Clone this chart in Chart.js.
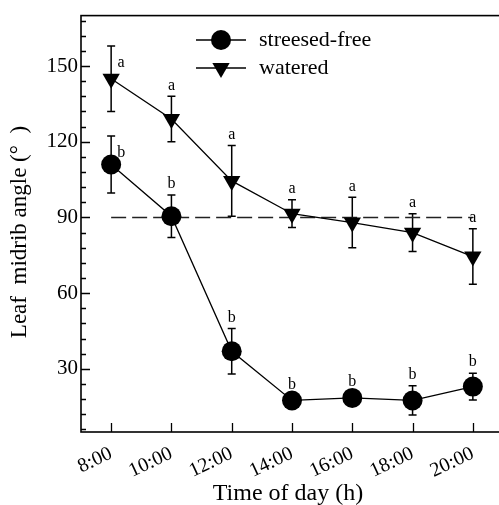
<!DOCTYPE html>
<html>
<head>
<meta charset="utf-8">
<script src="https://cdn.jsdelivr.net/npm/chart.js@4.4.0/dist/chart.umd.min.js"></script>
<style>
  html, body { margin: 0; padding: 0; background: #fff; overflow: hidden; }
  #chart { display: block; }
</style>
</head>
<body>
<canvas id="chart" width="513" height="505"></canvas>
<script>
// hours of the day and their tick labels
const hours = [8, 10, 12, 14, 16, 18, 20];
const timeLabels = ["8:00", "10:00", "12:00", "14:00", "16:00", "18:00", "20:00"];

// streesed-free series (circles)
const freeValues = [111, 90.5, 37, 17.5, 18.5, 17.5, 23];
const freeErrors = [11.3, 8.4, 9, 2, 2, 5.8, 5.3];
const freeLetters = ["b", "b", "b", "b", "b", "b", "b"];

// watered series (triangles)
const wateredValues = [145, 129, 104.5, 91.5, 88, 84, 74.5];
const wateredErrors = [13, 9, 14, 5.5, 10, 7.5, 11];
const wateredLetters = ["a", "a", "a", "a", "a", "a", "a"];

const yMajorTicks = [30, 60, 90, 120, 150];
const referenceAngle = 90;

const SERIF = "'Liberation Serif', 'Times New Roman', serif";

// error bars, letters, frame, inward ticks and legend
const annotatePlugin = {
  id: "annotate",
  beforeDatasetsDraw(chart) {
    const ctx = chart.ctx;
    const xs = chart.scales.x, ys = chart.scales.y;
    ctx.save();
    ctx.strokeStyle = "#000";
    ctx.lineWidth = 1.5;
    [[freeValues, freeErrors], [wateredValues, wateredErrors]].forEach(([vals, errs]) => {
      vals.forEach((v, i) => {
        const x = xs.getPixelForValue(hours[i]);
        const yTop = ys.getPixelForValue(v + errs[i]);
        const yBot = ys.getPixelForValue(v - errs[i]);
        ctx.beginPath();
        ctx.moveTo(x, yTop); ctx.lineTo(x, yBot);
        ctx.moveTo(x - 4, yTop); ctx.lineTo(x + 4, yTop);
        ctx.moveTo(x - 4, yBot); ctx.lineTo(x + 4, yBot);
        ctx.stroke();
      });
    });
    ctx.restore();
  },
  afterDraw(chart) {
    const ctx = chart.ctx;
    const area = chart.chartArea;
    const xs = chart.scales.x, ys = chart.scales.y;
    ctx.save();

    // letters
    ctx.fillStyle = "#000";
    ctx.font = "16px " + SERIF;
    ctx.textAlign = "center";
    ctx.textBaseline = "middle";
    [[freeValues, freeErrors, freeLetters], [wateredValues, wateredErrors, wateredLetters]].forEach(([vals, errs, letters]) => {
      vals.forEach((v, i) => {
        const x = xs.getPixelForValue(hours[i]);
        const yTop = ys.getPixelForValue(v + errs[i]);
        if (i === 0) {
          ctx.fillText(letters[i], x + 10, yTop + 17);
        } else {
          ctx.fillText(letters[i], x, yTop - 11);
        }
      });
    });

    // frame
    ctx.strokeStyle = "#000";
    ctx.lineWidth = 1.6;
    ctx.strokeRect(area.left, area.top, area.right - area.left, area.bottom - area.top);

    // y ticks (inward): minor every 6, major every 30
    ctx.lineWidth = 1.3;
    ctx.beginPath();
    for (let v = 6; v <= 168; v += 6) {
      const y = Math.round(ys.getPixelForValue(v)) + 0.5;
      const len = v % 30 === 0 ? 9 : 5;
      ctx.moveTo(area.left, y);
      ctx.lineTo(area.left + len, y);
    }
    // x ticks (inward)
    hours.forEach((h) => {
      const x = Math.round(xs.getPixelForValue(h)) + 0.5;
      ctx.moveTo(x, area.bottom);
      ctx.lineTo(x, area.bottom - 9);
    });
    ctx.stroke();

    // axis titles
    ctx.font = "24px " + SERIF;
    ctx.textAlign = "center";
    ctx.textBaseline = "middle";
    ctx.fillText("Time of day (h)", 288, 494);
    ctx.save();
    ctx.font = "23px " + SERIF;
    ctx.translate(20, 232);
    ctx.rotate(-Math.PI / 2);
    ctx.fillText("Leaf  midrib angle (\u00B0  )", 0, 0);
    ctx.restore();

    // legend
    const rows = [
      { label: "streesed-free", style: "circle", rotation: 0, y: 40 },
      { label: "watered", style: "triangle", rotation: 180, y: 68 }
    ];
    ctx.font = "22px " + SERIF;
    ctx.textAlign = "left";
    rows.forEach((r) => {
      ctx.lineWidth = 1.3;
      ctx.beginPath();
      ctx.moveTo(196, r.y); ctx.lineTo(246, r.y);
      ctx.stroke();
      ctx.fillStyle = "#000";
      Chart.helpers.drawPoint(ctx, { pointStyle: r.style, rotation: r.rotation, radius: 10, borderWidth: 0 }, 221, r.y);
      ctx.fillText(r.label, 259, r.y);
    });
    ctx.restore();
  }
};

const ctx = document.getElementById("chart");
new Chart(ctx.getContext("2d"), {
  type: "line",
  data: {
    datasets: [
      {
        label: "streesed-free",
        data: hours.map((h, i) => ({ x: h, y: freeValues[i] })),
        borderColor: "#000",
        backgroundColor: "#000",
        borderWidth: 1.3,
        pointStyle: "circle",
        pointRadius: 10,
        pointBorderWidth: 0,
        order: 1
      },
      {
        label: "watered",
        data: hours.map((h, i) => ({ x: h, y: wateredValues[i] })),
        borderColor: "#000",
        backgroundColor: "#000",
        borderWidth: 1.3,
        pointStyle: "triangle",
        pointRotation: 180,
        pointRadius: 10,
        pointBorderWidth: 0,
        order: 2
      },
      {
        label: "reference",
        data: [{ x: hours[0], y: referenceAngle }, { x: hours[hours.length - 1], y: referenceAngle }],
        borderColor: "#222",
        borderWidth: 1.3,
        borderDash: [15, 6],
        pointRadius: 0,
        order: 3
      }
    ]
  },
  options: {
    responsive: false,
    animation: false,
    devicePixelRatio: 1,
    layout: { padding: { top: 14, right: 0, left: 0, bottom: 0 } },
    plugins: {
      legend: { display: false },
      tooltip: { enabled: false }
    },
    scales: {
      x: {
        type: "linear",
        min: 7,
        max: 21,
        afterBuildTicks: (scale) => {
          scale.ticks = hours.map((h) => ({ value: h }));
        },
        afterFit: (scale) => {
          scale.height = 73;
        },
        grid: { display: false, drawTicks: false },
        border: { display: false },
        ticks: {
          autoSkip: false,
          minRotation: 25,
          maxRotation: 25,
          padding: 10,
          color: "#000",
          font: { family: SERIF, size: 20 },
          callback: (value) => timeLabels[hours.indexOf(value)]
        }
      },
      y: {
        min: 5,
        max: 170,
        afterBuildTicks: (scale) => {
          scale.ticks = yMajorTicks.map((v) => ({ value: v }));
        },
        afterFit: (scale) => {
          scale.width = 81;
        },
        grid: { display: false, drawTicks: false },
        border: { display: false },
        ticks: {
          padding: 3,
          color: "#000",
          font: { family: SERIF, size: 21 }
        }
      }
    }
  },
  plugins: [annotatePlugin]
});
</script>
</body>
</html>
